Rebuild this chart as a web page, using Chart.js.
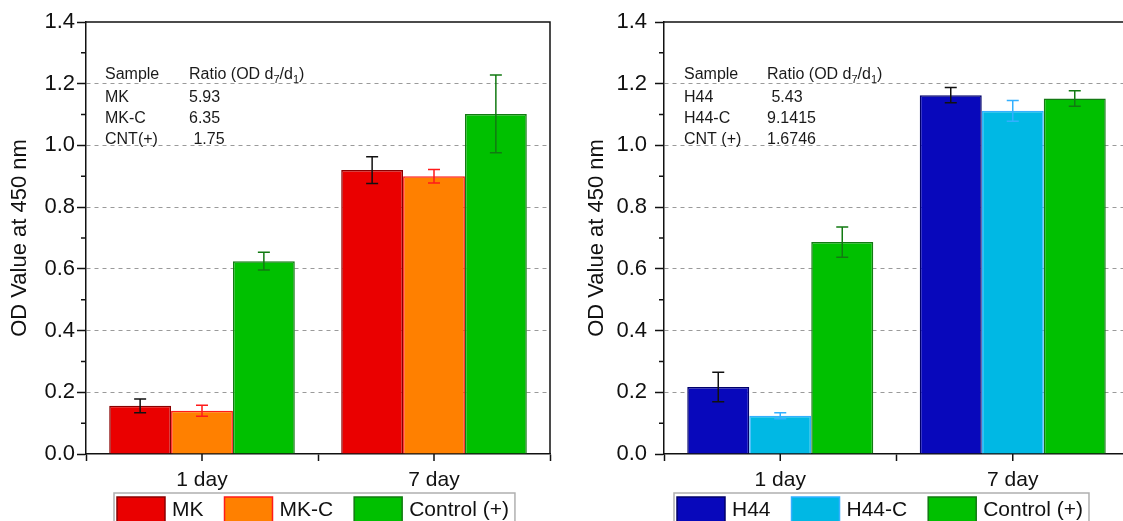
<!DOCTYPE html>
<html>
<head>
<meta charset="utf-8">
<script src="https://cdn.jsdelivr.net/npm/chart.js@4/dist/chart.umd.min.js"></script>
<style>
  html, body { margin: 0; padding: 0; background: #fff; overflow: hidden; }
  #wrapLeft { position: absolute; left: 0; top: 0; width: 561px; height: 521px; }
  #wrapRight { position: absolute; left: 561px; top: 0; width: 570px; height: 521px; }
</style>
</head>
<body>
<div id="wrapLeft"><canvas id="chartLeft" width="561" height="521"></canvas></div>
<div id="wrapRight"><canvas id="chartRight" width="570" height="521"></canvas></div>
<script>
// dados
const categories = ['1 day', '7 day'];

const mkValues = [0.156, 0.920];
const mkErrors = [0.022, 0.043];
const mkcValues = [0.140, 0.900];
const mkcErrors = [0.018, 0.022];
const controlLeftValues = [0.625, 1.102];
const controlLeftErrors = [0.029, 0.126];

const h44Values = [0.217, 1.163];
const h44Errors = [0.048, 0.025];
const h44cValues = [0.124, 1.112];
const h44cErrors = [0.010, 0.034];
const controlRightValues = [0.687, 1.152];
const controlRightErrors = [0.049, 0.025];

const yMin = 0, yMax = 1.4, yStep = 0.2;

const ratioHeader = ['Sample', 'Ratio (OD d', '7', '/d', '1', ')'];
const ratioLeftSamples = ['MK', 'MK-C', 'CNT(+)'];
const ratioLeftValues = ['5.93', '6.35', ' 1.75'];
const ratioRightSamples = ['H44', 'H44-C', 'CNT (+)'];
const ratioRightValues = [' 5.43', '9.1415', '1.6746'];

const FONT = "'Liberation Sans', Arial, sans-serif";

// plugin: barras de erro, moldura, ticks menores, legenda e tabela
const decorPlugin = {
    id: 'decor',
    afterDatasetsDraw(chart, args, opts) {
        const ctx = chart.ctx;
        const { left, right, top, bottom } = chart.chartArea;
        const y = chart.scales.y;
        const x = chart.scales.x;
        ctx.save();

        // barras de erro
        chart.data.datasets.forEach((ds, i) => {
            const meta = chart.getDatasetMeta(i);
            meta.data.forEach((bar, j) => {
                const v = ds.data[j], e = ds.errors[j];
                const yHi = y.getPixelForValue(v + e);
                const yLo = y.getPixelForValue(v - e);
                ctx.strokeStyle = ds.errorColor;
                ctx.lineWidth = 1.5;
                ctx.beginPath();
                ctx.moveTo(bar.x, yHi); ctx.lineTo(bar.x, yLo);
                ctx.moveTo(bar.x - 6, yHi); ctx.lineTo(bar.x + 6, yHi);
                ctx.moveTo(bar.x - 6, yLo); ctx.lineTo(bar.x + 6, yLo);
                ctx.stroke();
            });
        });

        // moldura superior e direita
        ctx.strokeStyle = '#111';
        ctx.lineWidth = 1.5;
        ctx.beginPath();
        ctx.moveTo(left, top); ctx.lineTo(right, top); ctx.lineTo(right, bottom);
        ctx.stroke();

        // ticks menores no eixo y
        ctx.beginPath();
        for (let v = yStep / 2; v < yMax; v += yStep) {
            const py = y.getPixelForValue(v);
            ctx.moveTo(left - 5, py); ctx.lineTo(left, py);
        }
        // ticks no centro das categorias
        categories.forEach((c, i) => {
            const px = x.getPixelForValue(i);
            ctx.moveTo(px, bottom); ctx.lineTo(px, bottom + 7);
        });
        ctx.stroke();

        // tabela de razões
        const t = opts.table;
        ctx.fillStyle = '#1a1a1a';
        ctx.font = '16px ' + FONT;
        ctx.textBaseline = 'alphabetic';
        ctx.textAlign = 'left';
        ctx.fillText(ratioHeader[0], t.x1, t.rows[0]);
        let hx = t.x2;
        ratioHeader.slice(1).forEach((s, k) => {
            const sub = k === 1 || k === 3;
            ctx.font = (sub ? '11px ' : '16px ') + FONT;
            ctx.fillText(s, hx, t.rows[0] + (sub ? 4 : 0));
            hx += ctx.measureText(s).width;
        });
        ctx.font = '16px ' + FONT;
        t.samples.forEach((s, k) => {
            ctx.fillText(s, t.x1, t.rows[k + 1]);
            ctx.fillText(t.values[k], t.x2, t.rows[k + 1]);
        });

        // legenda com moldura
        const lg = opts.legend;
        ctx.font = '21px ' + FONT;
        let lx = lg.x + 3;
        chart.data.datasets.forEach((ds) => {
            ctx.fillStyle = ds.backgroundColor;
            ctx.fillRect(lx, lg.y + 4, 48, 28);
            ctx.strokeStyle = ds.borderColor;
            ctx.lineWidth = 1.5;
            ctx.strokeRect(lx, lg.y + 4, 48, 28);
            ctx.fillStyle = '#111';
            ctx.fillText(ds.label, lx + 55, lg.y + 23);
            lx += 55 + ctx.measureText(ds.label).width + 21;
        });
        ctx.strokeStyle = '#b0b0b0';
        ctx.lineWidth = 1.5;
        ctx.strokeRect(lg.x, lg.y, lx - 21 + 6 - lg.x, 40);

        ctx.restore();
    }
};

function makeOptions(axisWidth, padRight, titlePad, tickPad, table, legend) {
    return {
        responsive: false,
        animation: false,
        layout: { padding: { left: 0, right: padRight, top: 22, bottom: 0 } },
        plugins: {
            legend: { display: false },
            tooltip: { enabled: false },
            decor: { table: table, legend: legend }
        },
        scales: {
            x: {
                afterFit: (s) => { s.height = 67; },
                grid: {
                    display: true, drawOnChartArea: false, offset: true,
                    tickLength: 7, tickColor: '#111', tickWidth: 1.5, color: '#111'
                },
                border: { color: '#111', width: 1.5 },
                ticks: { color: '#111', padding: 7, font: { family: FONT, size: 21 } }
            },
            y: {
                min: yMin,
                max: yMax,
                afterFit: (s) => { s.width = axisWidth; },
                ticks: {
                    stepSize: yStep,
                    padding: tickPad,
                    color: '#111',
                    font: { family: FONT, size: 22 },
                    callback: (v) => Number(v).toFixed(1)
                },
                grid: {
                    color: (c) => (c.tick && c.tick.value > 0.01 && c.tick.value < yMax - 0.01) ? '#9a9a9a' : 'rgba(0,0,0,0)',
                    lineWidth: 1,
                    tickLength: 9,
                    tickColor: '#111',
                    tickWidth: 1.5
                },
                border: { color: '#111', width: 1.5, dash: [4, 4] },
                title: {
                    display: true,
                    text: 'OD Value at 450 nm',
                    color: '#111',
                    padding: { top: titlePad, bottom: 0 },
                    font: { family: FONT, size: 22 }
                }
            }
        }
    };
}

function makeBar(label, values, errors, fill, border, errColor) {
    return {
        label: label,
        data: values,
        errors: errors,
        errorColor: errColor,
        backgroundColor: fill,
        borderColor: border,
        borderWidth: 1.5,
        categoryPercentage: 0.8,
        barPercentage: 1.0
    };
}

new Chart(document.getElementById('chartLeft').getContext('2d'), {
    type: 'bar',
    data: {
        labels: categories,
        datasets: [
            makeBar('MK', mkValues, mkErrors, '#ea0000', '#8a0000', '#111'),
            makeBar('MK-C', mkcValues, mkcErrors, '#ff8000', '#ff1a1a', '#ff1a1a'),
            makeBar('Control (+)', controlLeftValues, controlLeftErrors, '#00c000', '#127a12', '#127a12')
        ]
    },
    options: makeOptions(86, 11, 7, 2,
        { x1: 105, x2: 189, rows: [79, 102, 123, 144], samples: ratioLeftSamples, values: ratioLeftValues },
        { x: 114, y: 493 }),
    plugins: [decorPlugin]
});

new Chart(document.getElementById('chartRight').getContext('2d'), {
    type: 'bar',
    data: {
        labels: categories,
        datasets: [
            makeBar('H44', h44Values, h44Errors, '#0808bb', '#00006a', '#111'),
            makeBar('H44-C', h44cValues, h44cErrors, '#00b8e4', '#33b0ff', '#33b0ff'),
            makeBar('Control (+)', controlRightValues, controlRightErrors, '#00c000', '#127a12', '#127a12')
        ]
    },
    options: makeOptions(103, 2, 23, 8,
        { x1: 123, x2: 206, rows: [79, 102, 123, 144], samples: ratioRightSamples, values: ratioRightValues },
        { x: 113, y: 493 }),
    plugins: [decorPlugin]
});
</script>
</body>
</html>
